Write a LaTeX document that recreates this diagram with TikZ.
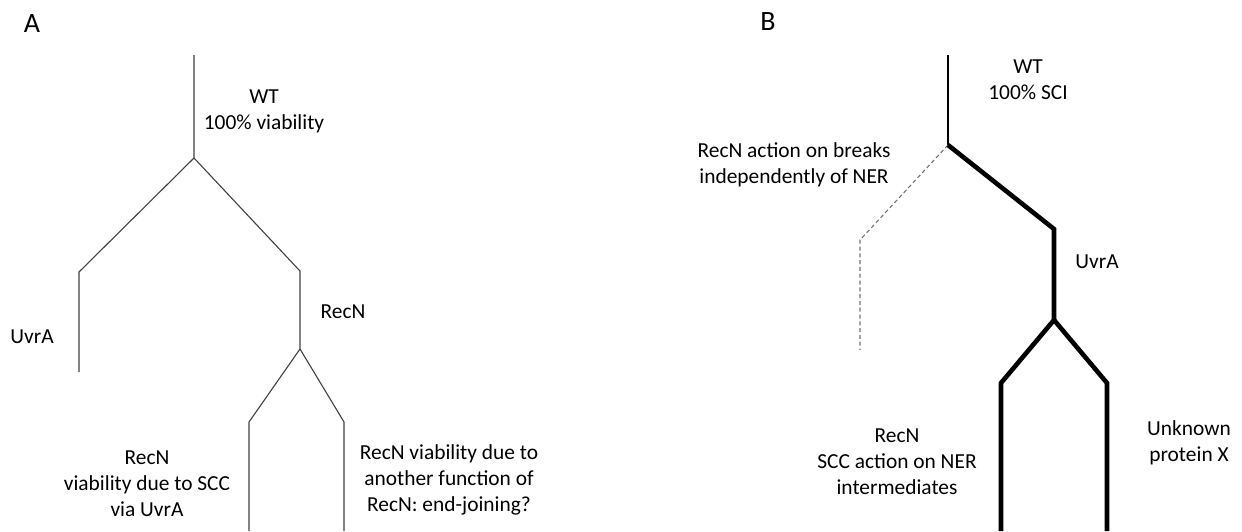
\documentclass[tikz,border=0pt]{standalone}
\usepackage{fontspec}
\setmainfont{Carlito}
\usepackage{tikz}

\begin{document}
\begin{tikzpicture}[x=0.5pt, y=-0.5pt,
  treeline/.style={draw=black!75, line width=0.55pt},
  boldline/.style={draw=black, line width=2.3pt},
  dashline/.style={draw=black!55, line width=0.55pt, dash pattern=on 2pt off 1.4pt},
  lbl/.style={align=center, inner sep=0pt, font=\fontsize{10.7}{13}\selectfont},
  panel/.style={inner sep=0pt, font=\fontsize{14}{16}\selectfont}]
  \useasboundingbox (0,0) rectangle (1242,531);
  % (A) viability tree
  \node[panel] (labA) at (32,24) {A};
  \coordinate (a0) at (194,55);  \coordinate (a1) at (194,158);
  \coordinate (a2) at (79,272);  \coordinate (a3) at (79,372);
  \coordinate (a4) at (300,271); \coordinate (a5) at (300,349);
  \coordinate (a6) at (249,422); \coordinate (a7) at (249,531);
  \coordinate (a8) at (344,422); \coordinate (a9) at (344,531);
  \draw[treeline] (a0)--(a1)--(a2)--(a3);
  \draw[treeline] (a1)--(a4)--(a5)--(a6)--(a7);
  \draw[treeline] (a5)--(a8)--(a9);
  \node[lbl] (wtA) at (264,111) {WT\\100\% viability};
  \node[lbl] (uvrA) at (32,337) {UvrA};
  \node[lbl] (recnA) at (343,312) {RecN};
  \node[lbl] (sccA) at (147,484) {RecN\\viability due to SCC\\via UvrA};
  \node[lbl] (ejA) at (449,480) {RecN viability due to\\another function of\\RecN: end-joining?};
  % (B) SCI tree
  \node[panel] (labB) at (768,22) {B};
  \coordinate (b0) at (948,55);   \coordinate (b1) at (948,145);
  \coordinate (b2) at (860,240);  \coordinate (b3) at (860,350);
  \coordinate (b4) at (1054,229); \coordinate (b5) at (1054,320);
  \coordinate (b6) at (1001,383); \coordinate (b7) at (1001,531);
  \coordinate (b8) at (1107,383); \coordinate (b9) at (1107,531);
  \draw[draw=black, line width=0.55pt] (b0)--(b1);
  \draw[dashline] (b1)--(b2)--(b3);
  \draw[boldline] (b1)--(b4)--(b5)--(b6)--(b7);
  \draw[boldline] (b5)--(b8)--(b9);
  \node[lbl] (wtB) at (1028,80) {WT\\100\% SCI};
  \node[lbl] (brkB) at (794,165) {RecN action on breaks\\independently of NER};
  \node[lbl] (uvrB) at (1097,262) {UvrA};
  \node[lbl] (sccB) at (897,462) {RecN\\SCC action on NER\\intermediates};
  \node[lbl] (unkB) at (1189,443) {Unknown\\protein X};
\end{tikzpicture}
\end{document}
